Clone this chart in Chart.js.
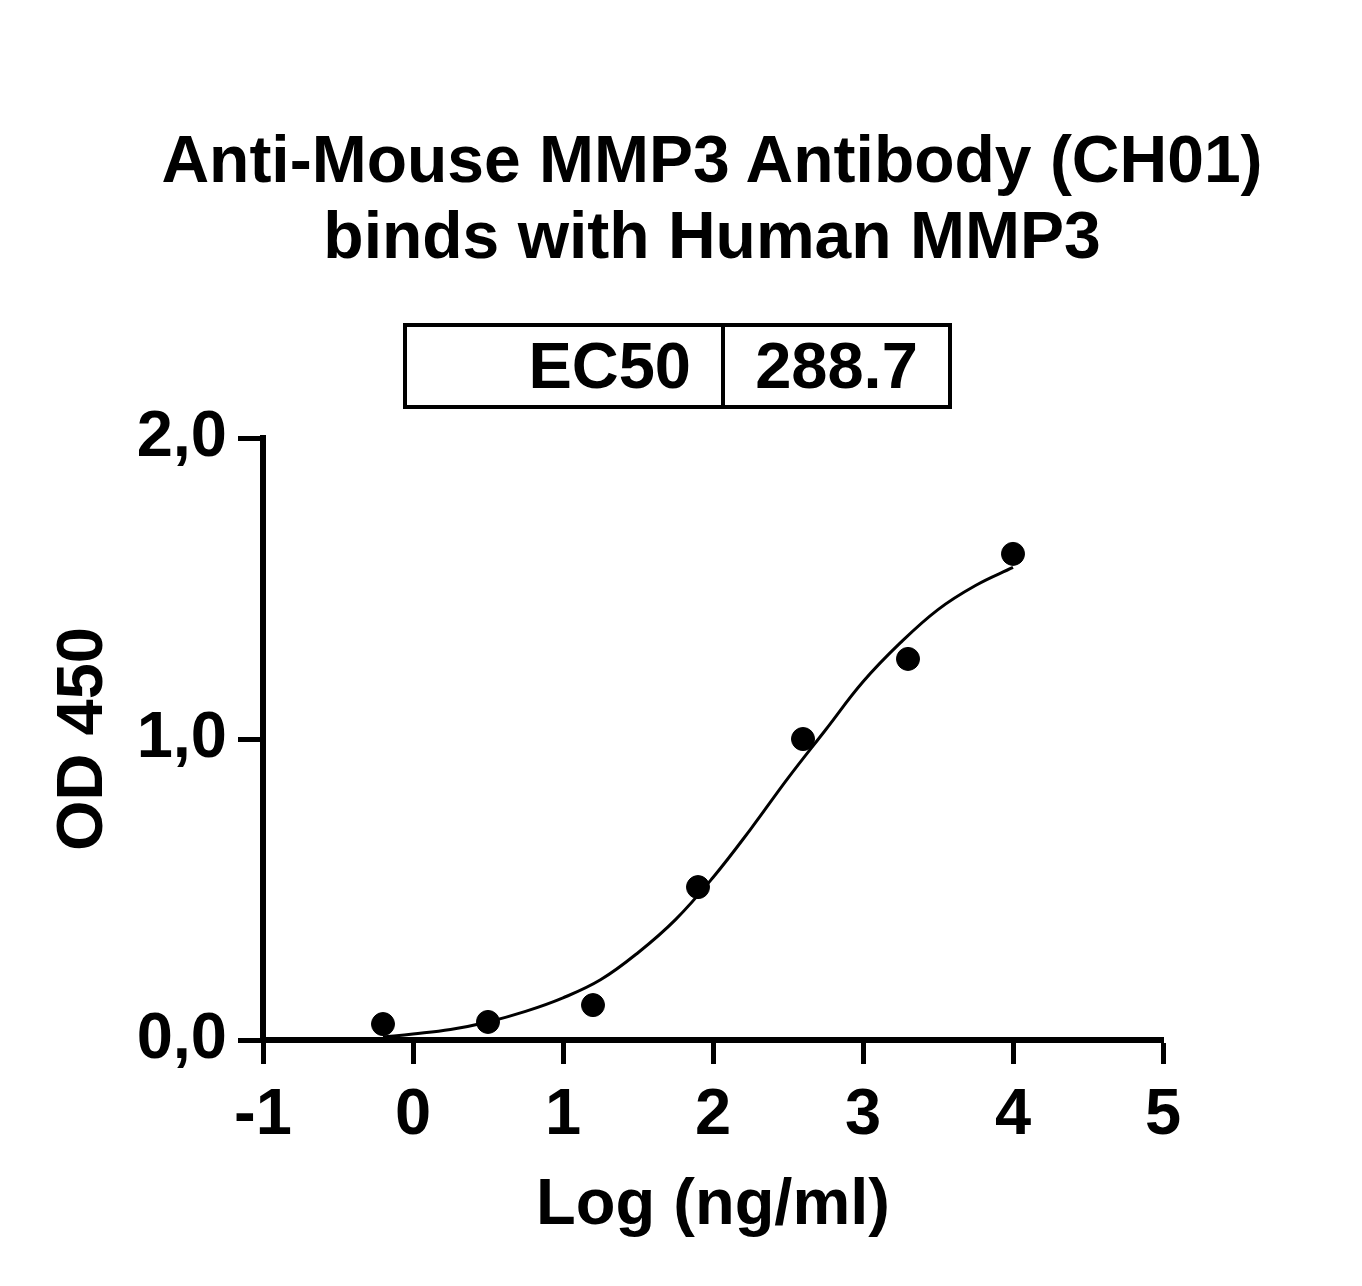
<!DOCTYPE html>
<html>
<head>
<meta charset="utf-8">
<script src="https://cdn.jsdelivr.net/npm/chart.js@4/dist/chart.umd.min.js"></script>
<style>
  html, body { margin: 0; padding: 0; background: #fff; }
  #wrap { position: relative; width: 1362px; height: 1286px; font-family: "Liberation Sans", Arial, sans-serif; font-weight: bold; color: #000; }
  #chart { position: absolute; left: 0; top: 0; }
  #title { position: absolute; left: 0; top: 121px; width: 1424px; text-align: center; font-size: 66px; line-height: 76px; }
  #ec50 { position: absolute; left: 403px; top: 323px; width: 549px; height: 86px; box-sizing: border-box; border: 4px solid #000; display: flex; font-size: 65px; }
  #ec50 .k { width: 318px; border-right: 4px solid #000; text-align: right; padding-right: 30px; box-sizing: border-box; line-height: 78px; }
  #ec50 .v { flex: 1; text-align: center; line-height: 78px; }
</style>
</head>
<body>
<div id="wrap">
  <canvas id="chart" width="1362" height="1286"></canvas>
  <div id="title">Anti-Mouse MMP3 Antibody (CH01)<br>binds with Human MMP3</div>
  <div id="ec50"><div class="k">EC50</div><div class="v">288.7</div></div>
</div>
<script>
"use strict";

// measured points
var logConc = [-0.2, 0.5, 1.2, 1.9, 2.6, 3.3, 4.0];
var od450 = [0.053, 0.06, 0.116, 0.508, 1.0, 1.266, 1.615];

// fitted curve
var fitX = [-0.2, 0, 0.25, 0.5, 0.75, 1, 1.25, 1.5, 1.75, 2, 2.25, 2.5, 2.75, 3, 3.25, 3.5, 3.75, 4];
var fitY = [0.01, 0.02, 0.035, 0.06, 0.095, 0.14, 0.2, 0.29, 0.4, 0.54, 0.7, 0.87, 1.03, 1.19, 1.32, 1.43, 1.51, 1.57];

var xTickLabels = ['-1', '0', '1', '2', '3', '4', '5'];
var yTickLabels = ['0,0', '1,0', '2,0'];

var font65 = { family: '"Liberation Sans", Arial, sans-serif', size: 65, weight: 'bold' };

var ctx = document.getElementById('chart').getContext('2d');
new Chart(ctx, {
    type: 'scatter',
    data: {
        datasets: [{
            label: 'points',
            data: logConc.map(function (x, i) { return { x: x, y: od450[i] }; }),
            backgroundColor: '#000',
            borderColor: '#000',
            pointRadius: 11.5,
            showLine: false,
            order: 0
        }, {
            label: 'fit',
            data: fitX.map(function (x, i) { return { x: x, y: fitY[i] }; }),
            borderColor: '#000',
            borderWidth: 3,
            pointRadius: 0,
            showLine: true,
            tension: 0.4,
            order: 1
        }]
    },
    options: {
        responsive: false,
        animation: false,
        layout: { padding: { left: 0, top: 438, right: 199, bottom: 0 } },
        plugins: { legend: { display: false }, tooltip: { enabled: false } },
        scales: {
            x: {
                type: 'linear',
                min: -1,
                max: 5,
                afterFit: function (s) { s.height = 246; },
                border: { color: '#000', width: 6 },
                grid: { drawOnChartArea: false, drawTicks: true, tickLength: 24, tickWidth: 5, tickColor: '#000', color: '#000' },
                ticks: {
                    stepSize: 1,
                    color: '#000',
                    font: font65,
                    padding: 13,
                    maxRotation: 0,
                    callback: function (v) { return xTickLabels[Math.round(v) + 1]; }
                },
                title: { display: true, text: 'Log (ng/ml)', color: '#000', font: font65, padding: { top: 0, bottom: 41 } }
            },
            y: {
                min: 0,
                max: 2,
                afterFit: function (s) { s.width = 263; },
                border: { color: '#000', width: 6 },
                grid: { drawOnChartArea: false, drawTicks: true, tickLength: 25, tickWidth: 5, tickColor: '#000', color: '#000' },
                ticks: {
                    stepSize: 1,
                    color: '#000',
                    font: font65,
                    padding: 11,
                    callback: function (v) { return yTickLabels[Math.round(v)]; }
                },
                title: { display: true, text: 'OD 450', color: '#000', font: font65, padding: { top: 45, bottom: 0 } }
            }
        }
    }
});
</script>
</body>
</html>
